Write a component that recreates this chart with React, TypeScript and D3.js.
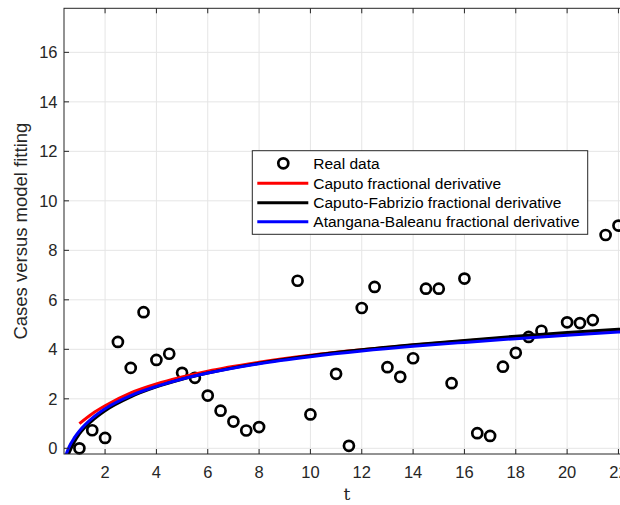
import React, { useEffect, useRef } from "react";
import * as d3 from "d3";

const dataT = [1, 1.5, 2, 2.5, 3, 3.5, 4, 4.5, 5, 5.5, 6, 6.5, 7, 7.5, 8, 9.5, 10, 11, 11.5, 12, 12.5, 13, 13.5, 14, 14.5, 15, 15.5, 16, 16.5, 17, 17.5, 18, 18.5, 19, 20, 20.5, 21, 21.5, 22];
const dataCases = [0.0, 0.73, 0.42, 4.3, 3.25, 5.5, 3.57, 3.82, 3.05, 2.85, 2.13, 1.52, 1.08, 0.72, 0.86, 6.77, 1.37, 3.01, 0.1, 5.67, 6.52, 3.28, 2.89, 3.64, 6.45, 6.45, 2.63, 6.86, 0.61, 0.5, 3.3, 3.86, 4.5, 4.75, 5.09, 5.06, 5.18, 8.62, 9.0];

// model curves
const caputoT = [1, 1.5, 2, 3, 4, 5, 6, 8, 10, 12, 14, 16, 18, 20, 22, 23];
const caputoY = [1.0, 1.4, 1.72, 2.24, 2.6, 2.88, 3.12, 3.48, 3.76, 3.98, 4.17, 4.34, 4.49, 4.63, 4.76, 4.82];
const fabrizioT = [0.55, 0.6, 0.8, 1, 1.5, 2, 3, 4, 5, 6, 8, 10, 12, 14, 16, 18, 20, 22, 23];
const fabrizioY = [-0.3, -0.18, 0.25, 0.58, 1.12, 1.52, 2.08, 2.48, 2.79, 3.04, 3.44, 3.74, 3.98, 4.18, 4.36, 4.53, 4.68, 4.81, 4.87];
const atanganaT = [0.45, 0.5, 0.6, 0.8, 1, 1.5, 2, 3, 4, 5, 6, 8, 10, 12, 14, 16, 18, 20, 22, 23];
const atanganaY = [-0.35, -0.2, 0.06, 0.42, 0.7, 1.22, 1.6, 2.13, 2.5, 2.8, 3.04, 3.42, 3.7, 3.93, 4.12, 4.28, 4.43, 4.57, 4.7, 4.76];

const xTicks = [2, 4, 6, 8, 10, 12, 14, 16, 18, 20, 22];
const yTicks = [0, 2, 4, 6, 8, 10, 12, 14, 16];

const legendLabels = [
  "Real data",
  "Caputo fractional derivative",
  "Caputo-Fabrizio fractional derivative",
  "Atangana-Baleanu fractional derivative",
];
const curveColors = ["#ff0000", "#000000", "#0000ff"];

const width = 620;
const height = 505;
const left = 64;
const right = 630;
const top = 8.3;
const bottom = 454;
const font = "'Liberation Sans', Arial, Helvetica, sans-serif";
const axisColor = "#262626";

export default function App() {
  const svgRef = useRef<SVGSVGElement>(null);

  useEffect(() => {
    const svg = d3.select(svgRef.current);
    svg.selectAll("*").remove();

    const x = d3.scaleLinear().domain([0.4, 22.45]).range([left, right]);
    const y = d3.scaleLinear().domain([-0.23, 17.78]).range([bottom, top]);

    svg.append("defs").append("clipPath").attr("id", "plot")
      .append("rect").attr("x", left).attr("y", top)
      .attr("width", right - left).attr("height", bottom - top);

    svg.append("rect").attr("x", left).attr("y", top)
      .attr("width", right - left).attr("height", bottom - top).attr("fill", "#fff");

    // grid
    const grid = svg.append("g").attr("stroke", "#e5e5e5").attr("stroke-width", 1);
    xTicks.forEach((t) => {
      grid.append("line").attr("x1", x(t)).attr("x2", x(t)).attr("y1", top).attr("y2", bottom);
    });
    yTicks.forEach((v) => {
      grid.append("line").attr("x1", left).attr("x2", right).attr("y1", y(v)).attr("y2", y(v));
    });

    // data points
    svg.append("g").selectAll("circle").data(dataT).join("circle")
      .attr("cx", (d) => x(d)).attr("cy", (_, i) => y(dataCases[i]))
      .attr("r", 5).attr("fill", "none").attr("stroke", "#000").attr("stroke-width", 2.7);

    const line = d3.line<[number, number]>()
      .x((d) => x(d[0])).y((d) => y(d[1])).curve(d3.curveMonotoneX);

    const curves: [number[], number[]][] = [
      [caputoT, caputoY],
      [fabrizioT, fabrizioY],
      [atanganaT, atanganaY],
    ];
    const lines = svg.append("g").attr("clip-path", "url(#plot)");
    curves.forEach(([ts, vs], i) => {
      lines.append("path")
        .datum(ts.map((t, j) => [t, vs[j]] as [number, number]))
        .attr("fill", "none").attr("stroke", curveColors[i]).attr("stroke-width", 3)
        .attr("d", line);
    });

    // box and ticks
    const ax = svg.append("g").attr("stroke", axisColor).attr("stroke-width", 1);
    ax.append("rect").attr("x", left).attr("y", top)
      .attr("width", right - left).attr("height", bottom - top).attr("fill", "none");
    xTicks.forEach((t) => {
      ax.append("line").attr("x1", x(t)).attr("x2", x(t)).attr("y1", bottom).attr("y2", bottom - 5);
      ax.append("line").attr("x1", x(t)).attr("x2", x(t)).attr("y1", top).attr("y2", top + 5);
    });
    yTicks.forEach((v) => {
      ax.append("line").attr("x1", left).attr("x2", left + 5).attr("y1", y(v)).attr("y2", y(v));
      ax.append("line").attr("x1", right).attr("x2", right - 5).attr("y1", y(v)).attr("y2", y(v));
    });

    svg.append("g").selectAll("text").data(xTicks).join("text")
      .attr("x", (d) => x(d)).attr("y", 478).attr("text-anchor", "middle")
      .attr("font-family", font).attr("font-size", 16.5).attr("fill", "#262626")
      .text((d) => d);
    svg.append("g").selectAll("text").data(yTicks).join("text")
      .attr("x", 57.5).attr("y", (d) => y(d)).attr("dy", "0.35em").attr("text-anchor", "end")
      .attr("font-family", font).attr("font-size", 16.5).attr("fill", "#262626")
      .text((d) => d);

    svg.append("text").attr("x", (left + right) / 2).attr("y", 500)
      .attr("text-anchor", "middle").attr("font-family", "'DejaVu Serif', 'Liberation Serif', serif")
      .attr("font-size", 17).attr("fill", "#262626").text("t");
    svg.append("text").attr("transform", `translate(27,${(top + bottom) / 2}) rotate(-90)`)
      .attr("text-anchor", "middle").attr("font-family", font)
      .attr("font-size", 18.5).attr("fill", "#262626").text("Cases versus model fitting");

    // legend
    const lg = svg.append("g");
    lg.append("rect").attr("x", 252.3).attr("y", 150.7).attr("width", 335.4).attr("height", 83.6)
      .attr("fill", "#fff").attr("stroke", axisColor).attr("stroke-width", 1);
    const rowY = [163.3, 183.3, 202.7, 221.7];
    legendLabels.forEach((label, i) => {
      if (i === 0) {
        lg.append("circle").attr("cx", 283.3).attr("cy", rowY[i]).attr("r", 5)
          .attr("fill", "none").attr("stroke", "#000").attr("stroke-width", 2.7);
      } else {
        lg.append("line").attr("x1", 257.3).attr("x2", 308.3).attr("y1", rowY[i]).attr("y2", rowY[i])
          .attr("stroke", curveColors[i - 1]).attr("stroke-width", 3);
      }
      lg.append("text").attr("x", 313.3).attr("y", rowY[i]).attr("dy", "0.35em")
        .attr("font-family", font).attr("font-size", 15.5).attr("fill", "#000").text(label);
    });
  }, []);

  return (
    <svg
      ref={svgRef}
      width={width}
      height={height}
      style={{ position: "absolute", left: 0, top: 0, background: "#fff", overflow: "hidden" }}
    />
  );
}
